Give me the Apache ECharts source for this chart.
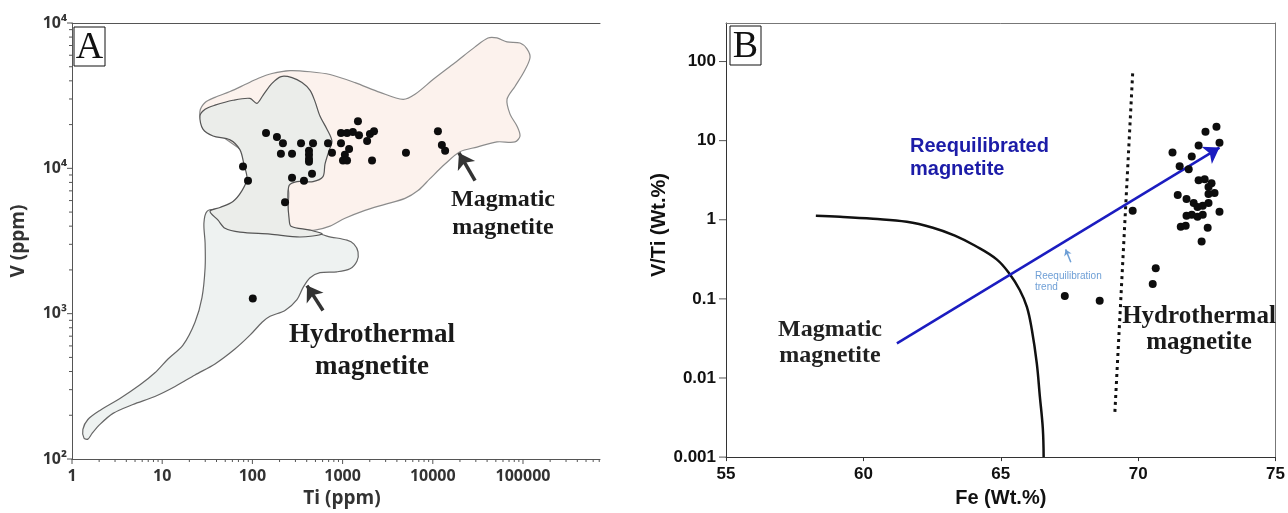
<!DOCTYPE html>
<html>
<head>
<meta charset="utf-8">
<script src="https://cdn.jsdelivr.net/npm/echarts@6/dist/echarts.min.js"></script>
<style>
  html, body { margin: 0; padding: 0; background: #fff; }
  #chart { width: 1288px; height: 513px; }
</style>
</head>
<body>
<div id="chart"></div>
<script>
// panel A: Ti (ppm) vs V (ppm)
const tiVDots = [
    [141.6, 17500], [187, 16400], [218, 14900], [346, 14900], [470, 14900], [207, 12600],
    [275, 12600], [424, 13200], [424, 12400], [424, 11600], [424, 11100], [275, 8630],
    [373, 8220], [458, 9180], [230, 5840], [78.7, 10300], [89.4, 8220], [689, 14900],
    [763, 12800], [960, 17500], [960, 14900], [1120, 17500], [1300, 17800], [1520, 16900],
    [1480, 21100], [1870, 15400], [2010, 17200], [2230, 18000], [1180, 13600], [1060, 12400],
    [1010, 11300], [1120, 11300], [2120, 11300], [5040, 12800], [11400, 18000], [12600, 14500],
    [13700, 13200], [101, 1270]
]
// field outlines, [Ti, V]
const hydroField = [
    [31.4, 5060], [40.6, 5220], [94, 4830], [261, 4130], [671, 3420], [1119, 3206], [1337, 3013],
    [1483, 2661], [1445, 2307], [1208, 2037], [867, 1941], [561, 1914], [436, 1766], [364, 1510],
    [312, 1250], [230, 1052], [157, 959], [128, 873], [94, 711], [64, 571], [38.5, 451], [23.1, 379],
    [13.9, 315], [8.3, 269], [4.74, 237], [2.85, 206], [2.04, 173], [1.67, 150], [1.5, 137],
    [1.36, 139], [1.32, 160], [1.5, 187], [2.04, 216], [3.4, 261], [5.68, 324], [8.3, 392],
    [11.6, 488], [17, 608], [23.1, 873], [27.6, 1291], [29.9, 2070], [29.9, 3062], [29, 4188]
]
const magField = [
    [26.2, 24700], [29.9, 28400], [38.5, 30800], [56.5, 33800], [82.8, 37700], [115, 41500],
    [165, 44900], [261, 47000], [436, 46200], [725, 44200], [1372, 38900], [2600, 33300],
    [4680, 29800], [6350, 32300], [10050, 40800], [17600, 53300], [29400, 68500], [40900, 78900],
    [51500, 78900], [66500, 74100], [92700, 72900], [110700, 66400], [119600, 57700],
    [102600, 46200], [81500, 36600], [66500, 29800], [71800, 23600], [85900, 19500],
    [92700, 16700], [81500, 15200], [51500, 15200], [30900, 14000], [20000, 13000],
    [13650, 10700], [9310, 8490], [6860, 7030], [4920, 6210], [2950, 5650], [1770, 5140],
    [1064, 4530], [725, 4000], [494, 3760], [337, 3810], [261, 4000], [248, 5310], [248, 7260],
    [157, 9930], [72.9, 13600], [38.5, 18000], [27.6, 21100]
]
const mixedField = [
    [26.2, 22900], [29.9, 25500], [38.5, 27200], [60.9, 29400], [94, 30300], [112, 28000],
    [131, 31800], [165, 38400], [208, 42800], [275, 42100], [355, 38900], [436, 34400],
    [494, 28900], [561, 22900], [671, 18600], [762, 15400], [706, 13200], [638, 10700],
    [606, 8770], [470, 8110], [312, 8110], [255, 7610], [248, 5740], [255, 4530], [268, 4000],
    [436, 3760], [591, 3530], [337, 3370], [157, 3530], [72.9, 3640], [49.7, 3870], [41.6, 4400],
    [33.9, 5060], [43.7, 5380], [60.9, 5920], [76.7, 7030], [87.1, 8490], [80.7, 10600],
    [72.9, 13400], [56.5, 15700], [36.6, 16700], [28.3, 18600]
]
const magArrowA = [[29400, 8220], [19500, 12770]]
const hydroArrowA = [[606, 1052], [403, 1560]]
const yLabelsA = { 2: '10²', 3: '10³', 4: '10⁴', 5: '10⁴' }

// panel B: Fe (Wt.%) vs V/Ti (Wt.%)
const feVTiDots = [
    [72.85, 14.96], [72.45, 12.96], [72.96, 9.44], [72.2, 8.66], [71.25, 7.08], [71.95, 6.31],
    [71.51, 4.73], [71.84, 4.34], [72.2, 3.16], [72.42, 3.25], [72.67, 2.9], [72.56, 2.59],
    [72.78, 2.18], [72.56, 2.11], [71.44, 2.05], [71.76, 1.83], [72.02, 1.63], [72.56, 1.63],
    [72.16, 1.45], [72.35, 1.5], [72.96, 1.26], [71.95, 1.155], [71.76, 1.122], [72.16, 1.09],
    [72.35, 1.155], [71.55, 0.818], [71.73, 0.841], [72.53, 0.794], [72.31, 0.531],
    [70.64, 0.244], [70.53, 0.154], [69.8, 1.3], [67.33, 0.109], [68.6, 0.0944]
]
const magmaticCurve = [
    [58.27, 1.122], [59.15, 1.09], [60.35, 1.029], [61.58, 0.944], [62.53, 0.794], [63.33, 0.631],
    [64.05, 0.473], [64.85, 0.316], [65.33, 0.205], [65.69, 0.1296], [65.95, 0.0794],
    [66.13, 0.041], [66.31, 0.0154], [66.42, 0.00596], [66.53, 0.0023], [66.56, 0.001]
]
const hydroBoundary = [[69.8, 70.8], [69.15, 0.00355]]
const trendArrow = [[61.22, 0.0274], [72.96, 8.17]]
const smallTrendArrow = [[67.55, 0.29], [67.36, 0.422]]

const isPow10 = v => Math.abs(Math.log10(v) - Math.round(Math.log10(v))) < 1e-6

// log axis ticks (major + 2..9 minor), drawn on the axes by a custom series
const logTicks = (fromExp, toExp, maxVal) => {
    let out = []
    for (let e = fromExp; e <= toExp; e++) {
        for (let k = 1; k <= 9; k++) {
            const v = k * Math.pow(10, e)
            if (v <= maxVal * 1.0001) out.push([v, k === 1 ? 5 : 3])
        }
    }
    return out
}
const xTicksA = logTicks(0, 5, 714000).map(t => [t[0], 100, t[1]])
const yTicksA = logTicks(2, 5, 100000).map(t => [1, t[0], t[1]])
const yTicksB = [0.001, 0.01, 0.1, 1, 10, 100].map(v => [55, v, 7])

const tickRender = dir => (params, api) => {
    const p = api.coord([api.value(0), api.value(1)])
    const len = api.value(2)
    return {
        type: 'line',
        shape: dir === 'x'
            ? { x1: p[0], y1: p[1], x2: p[0], y2: p[1] + len }
            : { x1: p[0], y1: p[1], x2: p[0] - len, y2: p[1] },
        style: { stroke: '#555', lineWidth: 1 }
    }
}

const fieldRender = (points, fill, stroke) => (params, api) => {
    if (params.dataIndex !== 0) return
    return {
        type: 'polygon',
        shape: { points: points.map(p => api.coord(p)), smooth: 0.3 },
        style: { fill, stroke, lineWidth: 1.2 }
    }
}

const labelA = { color: '#333', fontFamily: 'Open Sans', fontWeight: 'bold', fontSize: 16 }
const labelB = { color: '#111', fontFamily: 'Liberation Sans', fontWeight: 'bold', fontSize: 17 }
const frame = (gridIndex, position, color) => ({
    type: 'value', gridIndex, position, min: 0, max: 1,
    axisLine: { show: true, lineStyle: { color, width: 1 } },
    axisTick: { show: false }, axisLabel: { show: false }, splitLine: { show: false }
})

const option = {
    animation: false,
    backgroundColor: '#fff',
    grid: [
        { left: 72, top: 23, width: 528, height: 440 },
        { left: 726, top: 23, width: 550, height: 439 }
    ],
    xAxis: [
        {
            type: 'log', logBase: 10, gridIndex: 0, min: 1, max: 714000,
            name: 'Ti (ppm)', nameLocation: 'middle', nameGap: 30,
            nameTextStyle: { color: '#333', fontFamily: 'Open Sans', fontWeight: 'bold', fontSize: 19, padding: [0, 0, 0, 12] },
            axisLine: { lineStyle: { color: '#555', width: 1 } },
            axisTick: { show: false },
            splitLine: { show: false },
            axisLabel: Object.assign({ margin: 9, formatter: v => isPow10(v) ? String(Math.round(v)) : '' }, labelA)
        },
        frame(0, 'top', '#555'),
        {
            type: 'value', gridIndex: 1, min: 55, max: 75, interval: 5,
            name: 'Fe (Wt.%)', nameLocation: 'middle', nameGap: 26,
            nameTextStyle: { color: '#111', fontFamily: 'Liberation Sans', fontWeight: 'bold', fontSize: 20 },
            axisLine: { lineStyle: { color: '#333', width: 1 } },
            axisTick: { show: true, length: 4, lineStyle: { color: '#333' } },
            splitLine: { show: false },
            axisLabel: Object.assign({ margin: 9 }, labelB)
        },
        frame(1, 'top', '#777')
    ],
    yAxis: [
        {
            type: 'log', logBase: 10, gridIndex: 0, min: 100, max: 100000,
            name: 'V (ppm)', nameLocation: 'middle', nameGap: 44,
            nameTextStyle: { color: '#333', fontFamily: 'Open Sans', fontWeight: 'bold', fontSize: 19 },
            axisLine: { lineStyle: { color: '#555', width: 1 } },
            axisTick: { show: false },
            splitLine: { show: false },
            axisLabel: Object.assign({ margin: 5, formatter: v => yLabelsA[Math.round(Math.log10(v))] || '' }, labelA)
        },
        {
            type: 'log', logBase: 10, gridIndex: 1, min: 0.001, max: 307,
            name: 'V/Ti (Wt.%)', nameLocation: 'middle', nameGap: 38,
            nameTextStyle: { color: '#111', fontFamily: 'Liberation Sans', fontWeight: 'bold', fontSize: 20, padding: [0, 0, 0, 30] },
            axisLine: { lineStyle: { color: '#333', width: 1 } },
            axisTick: { show: false },
            splitLine: { show: false },
            axisLabel: Object.assign({
                margin: 10,
                formatter: v => {
                    if (!isPow10(v)) return ''
                    const e = Math.round(Math.log10(v))
                    return e < 0 ? Math.pow(10, e).toFixed(-e) : String(Math.pow(10, e))
                }
            }, labelB)
        },
        frame(1, 'right', '#777')
    ],
    series: [
        { type: 'custom', xAxisIndex: 0, yAxisIndex: 0, silent: true, renderItem: fieldRender(hydroField, '#eef2f1', '#666'), data: hydroField, z: 1 },
        { type: 'custom', xAxisIndex: 0, yAxisIndex: 0, silent: true, renderItem: fieldRender(magField, '#fcf2ed', '#8c8c8c'), data: magField, z: 2 },
        { type: 'custom', xAxisIndex: 0, yAxisIndex: 0, silent: true, renderItem: fieldRender(mixedField, '#ebedea', '#555'), data: mixedField, z: 3 },
        { type: 'custom', xAxisIndex: 0, yAxisIndex: 0, silent: true, renderItem: tickRender('x'), data: xTicksA, z: 5 },
        { type: 'custom', xAxisIndex: 0, yAxisIndex: 0, silent: true, renderItem: tickRender('y'), data: yTicksA, z: 5 },
        {
            type: 'scatter', xAxisIndex: 0, yAxisIndex: 0, data: tiVDots,
            symbolSize: 8, itemStyle: { color: '#0d0d0d', opacity: 1 }, z: 6
        },
        {
            type: 'lines', coordinateSystem: 'cartesian2d', xAxisIndex: 0, yAxisIndex: 0,
            data: [{ coords: magArrowA }, { coords: hydroArrowA }],
            symbol: ['none', 'arrow'], symbolSize: 15,
            lineStyle: { color: '#333', width: 3.5, opacity: 1 }, z: 7
        },
        { type: 'custom', xAxisIndex: 2, yAxisIndex: 1, silent: true, renderItem: tickRender('y'), data: yTicksB, z: 5 },
        {
            type: 'line', xAxisIndex: 2, yAxisIndex: 1, data: magmaticCurve,
            smooth: 0.4, showSymbol: false, lineStyle: { color: '#111', width: 2.5 }, z: 4
        },
        {
            type: 'lines', coordinateSystem: 'cartesian2d', xAxisIndex: 2, yAxisIndex: 1,
            data: [{ coords: hydroBoundary }], symbol: 'none',
            lineStyle: { color: '#111', width: 3, type: [3, 4], opacity: 1 }, z: 4
        },
        {
            type: 'lines', coordinateSystem: 'cartesian2d', xAxisIndex: 2, yAxisIndex: 1,
            data: [{ coords: trendArrow }], symbol: ['none', 'arrow'], symbolSize: 15,
            lineStyle: { color: '#1b1cc0', width: 2.5, opacity: 1 }, z: 5
        },
        {
            type: 'lines', coordinateSystem: 'cartesian2d', xAxisIndex: 2, yAxisIndex: 1,
            data: [{ coords: smallTrendArrow }], symbol: ['none', 'arrow'], symbolSize: 6,
            lineStyle: { color: '#6e9fd6', width: 1.5, opacity: 1 }, z: 5
        },
        {
            type: 'scatter', xAxisIndex: 2, yAxisIndex: 1, data: feVTiDots,
            symbolSize: 8, itemStyle: { color: '#0d0d0d', opacity: 1 }, z: 6
        }
    ],
    graphic: [
        {
            type: 'group', z: 100, children: [
                { type: 'rect', shape: { x: 74, y: 27, width: 31, height: 39 }, style: { fill: '#fff', stroke: '#111', lineWidth: 1 } },
                { type: 'text', x: 89.5, y: 48, style: { text: 'A', font: '38px "Liberation Serif"', fill: '#111', align: 'center', verticalAlign: 'middle' } },
                { type: 'rect', shape: { x: 730, y: 26, width: 31, height: 39 }, style: { fill: '#fff', stroke: '#111', lineWidth: 1 } },
                { type: 'text', x: 745.5, y: 47, style: { text: 'B', font: '38px "Liberation Serif"', fill: '#111', align: 'center', verticalAlign: 'middle' } }
            ]
        },
        { type: 'text', z: 100, x: 503, y: 214, style: { text: 'Magmatic\nmagnetite', font: 'bold 24px "Liberation Serif"', fill: '#1a1a1a', align: 'center', verticalAlign: 'middle', lineHeight: 28 } },
        { type: 'text', z: 100, x: 372, y: 351, style: { text: 'Hydrothermal\nmagnetite', font: 'bold 27px "Liberation Serif"', fill: '#1a1a1a', align: 'center', verticalAlign: 'middle', lineHeight: 32 } },
        { type: 'text', z: 100, x: 1199, y: 330, style: { text: 'Hydrothermal\nmagnetite', font: 'bold 25px "Liberation Serif"', fill: '#1a1a1a', align: 'center', verticalAlign: 'middle', lineHeight: 26 } },
        { type: 'text', z: 100, x: 830, y: 343, style: { text: 'Magmatic\nmagnetite', font: 'bold 24px "Liberation Serif"', fill: '#222', align: 'center', verticalAlign: 'middle', lineHeight: 26 } },
        { type: 'text', z: 100, x: 910, y: 158, style: { text: 'Reequilibrated\nmagnetite', font: 'bold 20px "Liberation Sans"', fill: '#1c1ca8', align: 'left', verticalAlign: 'middle', lineHeight: 23 } },
        { type: 'text', z: 100, x: 1035, y: 282, style: { text: 'Reequilibration\ntrend', font: '10px "Liberation Sans"', fill: '#6e9fd6', align: 'left', verticalAlign: 'middle', lineHeight: 11 } }
    ]
}

const chart = echarts.init(document.getElementById('chart'))
chart.setOption(option)
</script>
</body>
</html>
